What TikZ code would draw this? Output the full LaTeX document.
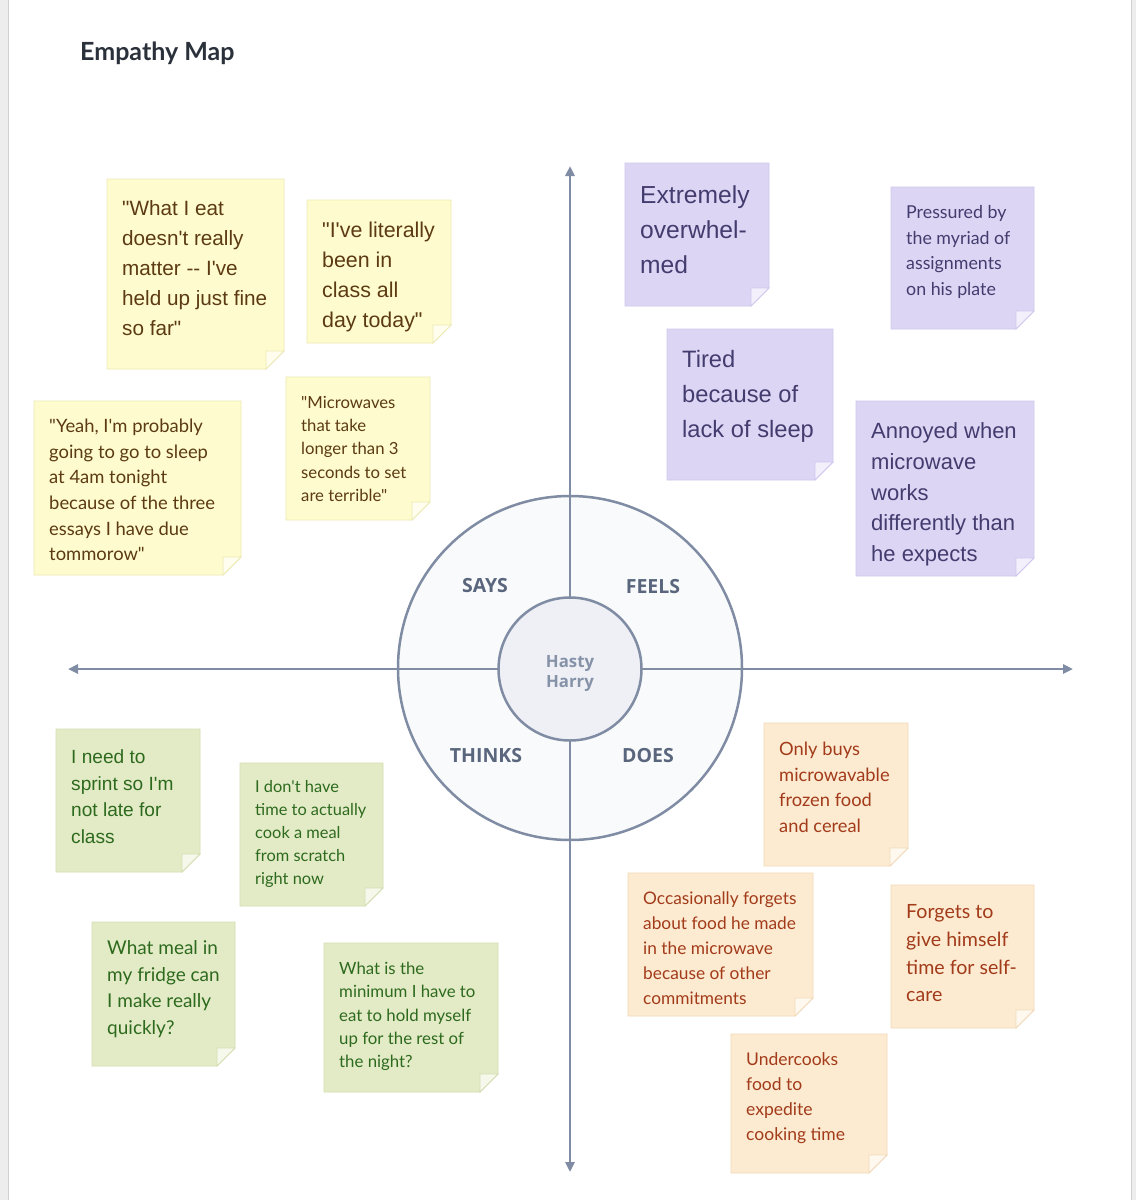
\documentclass[tikz,border=0pt]{standalone}
\usepackage{fontspec}
\usetikzlibrary{arrows.meta}

\newfontfamily\notesans{Liberation Sans}[Ligatures=TeXOff]
\newfontfamily\notehuman{Lato}[Ligatures=TeXOff]
\newfontfamily\labelfont{Open Sans}[Ligatures=TeXOff]

\definecolor{axis}{HTML}{7F8CA3}
\definecolor{outerfill}{HTML}{F9FAFB}
\definecolor{innerfill}{HTML}{EEF0F5}
\definecolor{quadtext}{HTML}{5A667D}
\definecolor{hubtext}{HTML}{8592A8}
\definecolor{titletext}{HTML}{2B313B}
\definecolor{saysfill}{HTML}{FEFCCF}
\definecolor{saysline}{HTML}{EDE9B4}
\definecolor{saystext}{HTML}{5C3A13}
\definecolor{feelsfill}{HTML}{DCD5F4}
\definecolor{feelsline}{HTML}{CFC8EE}
\definecolor{feelstext}{HTML}{433C6E}
\definecolor{thinksfill}{HTML}{E3EBC6}
\definecolor{thinksline}{HTML}{D3DDB2}
\definecolor{thinkstext}{HTML}{2D6A1E}
\definecolor{doesfill}{HTML}{FCEAD1}
\definecolor{doesline}{HTML}{F2DAB8}
\definecolor{doestext}{HTML}{A23B1A}

\tikzset{
  note text/.style={inner sep=0pt, align=left, anchor=north west},
  says note/.style={fill=saysfill, draw=saysline, line width=0.8pt},
  says fold/.style={fill=saysfill!35!white, draw=saysline, line width=0.8pt},
  says text/.style={text=saystext},
  feels note/.style={fill=feelsfill, draw=feelsline, line width=0.8pt},
  feels fold/.style={fill=feelsfill!35!white, draw=feelsline, line width=0.8pt},
  feels text/.style={text=feelstext},
  thinks note/.style={fill=thinksfill, draw=thinksline, line width=0.8pt},
  thinks fold/.style={fill=thinksfill!35!white, draw=thinksline, line width=0.8pt},
  thinks text/.style={text=thinkstext},
  does note/.style={fill=doesfill, draw=doesline, line width=0.8pt},
  does fold/.style={fill=doesfill!35!white, draw=doesline, line width=0.8pt},
  does text/.style={text=doestext},
  axis line/.style={draw=axis, line width=2.5pt},
  quadrant/.style={font=\labelfont\bfseries\fontsize{19.5}{22}\selectfont, text=quadtext},
}

% name, group, family, top left, bottom right, font size, line spacing, first line offset, text
\newcommand{\stickynote}[9]{%
  \coordinate (#1nw) at (#4);
  \coordinate (#1se) at (#5);
  \filldraw[#2 note] (#1nw) -- (#1nw -| #1se) -- ([yshift=18pt]#1se)
    -- ([xshift=-18pt]#1se) -- (#1nw |- #1se) -- cycle;
  \filldraw[#2 fold] ([xshift=-18pt,yshift=18pt]#1se) -- ([yshift=18pt]#1se)
    -- ([xshift=-18pt]#1se) -- cycle;
  \node[note text, #2 text, font={#3\fontsize{#6}{#7}\selectfont}]
    (#1) at ([shift={(15,{#8-0.38*#6})}]#1nw) {#9};
}

\begin{document}
\begin{tikzpicture}[x=1pt, y=-1pt, >={Triangle[length=10pt, width=9pt]}]
    \useasboundingbox (0,0) rectangle (1136,1200);
    \fill[white] (0,0) rectangle (1136,1200);
    % page edges
    \fill[black!7] (0,0) rectangle (8,1200);
    \fill[black!7] (1131,0) rectangle (1136,1200);
    \draw[black!18, line width=0.8pt] (8,0) -- (8,1200);
    \draw[black!18, line width=0.8pt] (1131,0) -- (1131,1200);
    \node[anchor=west, inner sep=0pt, text=titletext,
        font=\notehuman\bfseries\fontsize{25}{29}\selectfont] (title) at (80,53) {Empathy Map};

    % wheel and axes
    \node[circle, fill=outerfill, axis line, minimum size=344pt, inner sep=0pt] (wheel) at (570,668) {};
    \coordinate (axtop) at (570,166);
    \coordinate (axbottom) at (570,1172);
    \coordinate (axleft) at (68,669);
    \coordinate (axright) at (1073,669);
    \draw[axis line, <->] (axleft) -- (axright);
    \draw[axis line, <->] (axbottom) -- (axtop);
    \node[circle, fill=innerfill, axis line, minimum size=143pt, inner sep=0pt] (hub) at (570,669) {};
    \node[align=center, text=hubtext, font=\labelfont\bfseries\fontsize{16.8}{20}\selectfont]
        (hubname) at (570,674) {Hasty\\Harry};
    \node[quadrant] (says) at (485,586) {SAYS};
    \node[quadrant] (feels) at (653,587) {FEELS};
    \node[quadrant] (thinks) at (486,756) {THINKS};
    \node[quadrant] (does) at (648,756) {DOES};

    % says
    \stickynote{sayseat}{says}{\notesans}{107,179}{284,369}{20.7}{30}{29}{"What I eat\\doesn't really\\matter -- I've\\held up just fine\\so far"}
    \stickynote{saysclass}{says}{\notesans}{307,200}{451,343}{21.4}{30}{30}{"I've literally\\been in\\class all\\day today"}
    \stickynote{sayssleep}{says}{\notehuman}{34,401}{241,575}{18.4}{25.6}{25}{"Yeah, I'm probably\\going to go to sleep\\at 4am tonight\\because of the three\\essays I have due\\tommorow"}
    \stickynote{saysoven}{says}{\notehuman}{286,377}{430,520}{16.7}{23.4}{25}{"Microwaves\\that take\\longer than 3\\seconds to set\\are terrible"}
    % feels
    \stickynote{feelsover}{feels}{\notesans}{625,163}{769,306}{24.6}{35}{32}{Extremely\\overwhel-\\med}
    \stickynote{feelspress}{feels}{\notehuman}{891,187}{1034,329}{17.8}{25.7}{25}{Pressured by\\the myriad of\\assignments\\on his plate}
    \stickynote{feelstired}{feels}{\notesans}{667,329}{833,480}{23.7}{35}{30}{Tired\\because of\\lack of sleep}
    \stickynote{feelsannoy}{feels}{\notesans}{856,401}{1034,576}{22}{30.7}{30}{Annoyed when\\microwave\\works\\differently than\\he expects}
    % thinks
    \stickynote{thinkssprint}{thinks}{\notesans}{56,729}{200,872}{19.1}{26.5}{28}{I need to\\sprint so I'm\\not late for\\class}
    \stickynote{thinkscook}{thinks}{\notehuman}{240,763}{383,906}{16.4}{23}{23}{I don't have\\time to actually\\cook a meal\\from scratch\\right now}
    \stickynote{thinksfridge}{thinks}{\notehuman}{92,922}{235,1066}{19}{26.5}{26}{What meal in\\my fridge can\\I make really\\quickly?}
    \stickynote{thinksmin}{thinks}{\notehuman}{324,943}{498,1092}{16.8}{23.4}{25}{What is the\\minimum I have to\\eat to hold myself\\up for the rest of\\the night?}
    % does
    \stickynote{doesbuys}{does}{\notehuman}{764,723}{908,866}{18.3}{25.6}{26}{Only buys\\microwavable\\frozen food\\and cereal}
    \stickynote{doesforget}{does}{\notehuman}{628,873}{813,1016}{17.3}{25}{25}{Occasionally forgets\\about food he made\\in the microwave\\because of other\\commitments}
    \stickynote{doesself}{does}{\notehuman}{891,885}{1034,1028}{19.6}{27.7}{27}{Forgets to\\give himself\\time for self-\\care}
    \stickynote{doescook}{does}{\notehuman}{731,1034}{887,1173}{17.5}{25}{25}{Undercooks\\food to\\expedite\\cooking time}
\end{tikzpicture}
\end{document}
